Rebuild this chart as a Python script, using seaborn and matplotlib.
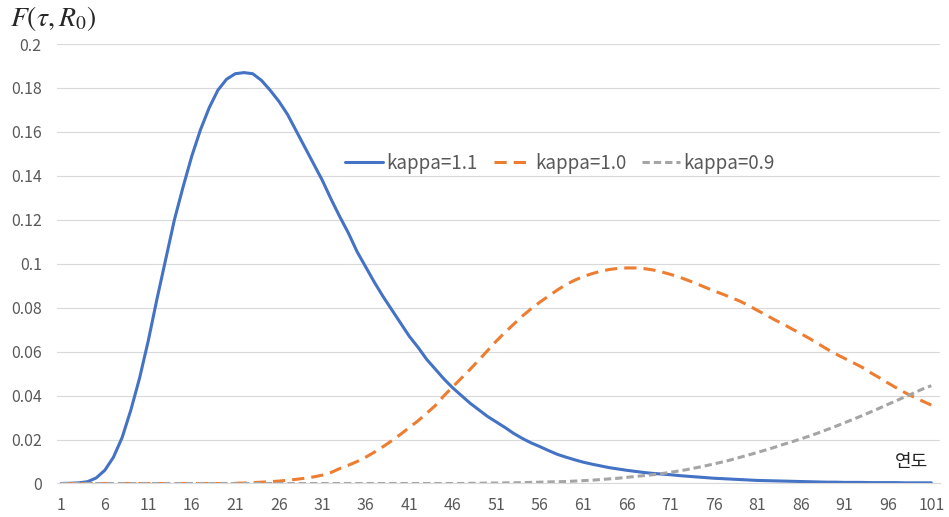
import numpy as np
import pandas as pd
import seaborn as sns
import matplotlib
matplotlib.use("Agg")
import matplotlib.pyplot as plt

# years 1..101
years = list(range(1, 102))

kappa_11 = [
    0.0, 0.0001, 0.0003, 0.0008, 0.0025, 0.0060, 0.0120, 0.0210, 0.0335, 0.0480,
    0.0650, 0.0840, 0.1020, 0.1200, 0.1350, 0.1490, 0.1610, 0.1710, 0.1790, 0.1840,
    0.1865, 0.1870, 0.1865, 0.1835, 0.1790, 0.1740, 0.1680, 0.1605, 0.1530, 0.1455,
    0.1380, 0.1295, 0.1215, 0.1140, 0.1055, 0.0985, 0.0915, 0.0850, 0.0790, 0.0730,
    0.0670, 0.0620, 0.0565, 0.0520, 0.0475, 0.0435, 0.0400, 0.0365, 0.0335, 0.0305,
    0.0280, 0.0255, 0.0228, 0.0205, 0.0185, 0.0168, 0.0150, 0.0133, 0.0120, 0.0108,
    0.0097, 0.0088, 0.0080, 0.0072, 0.0066, 0.0060, 0.0055, 0.0050, 0.0046, 0.0043,
    0.0040, 0.0036, 0.0033, 0.0030, 0.0027, 0.0024, 0.0022, 0.0020, 0.0018, 0.0016,
    0.0014, 0.0013, 0.0012, 0.0011, 0.0010, 0.0009, 0.0008, 0.0007, 0.0006, 0.0006,
    0.0005, 0.0005, 0.0005, 0.0004, 0.0004, 0.0004, 0.0004, 0.0003, 0.0003, 0.0003,
    0.0003,
]

kappa_10 = [
    0.0, 0.0, 0.0, 0.0, 0.0, 0.0, 0.0, 0.0, 0.0, 0.0,
    0.0, 0.0, 0.0, 0.0, 0.0, 0.0, 0.0, 0.0, 0.0, 0.0,
    0.0001, 0.0002, 0.0004, 0.0006, 0.0008, 0.0011, 0.0015, 0.0019, 0.0024, 0.0030,
    0.0038, 0.0050, 0.0068, 0.0083, 0.0100, 0.0120, 0.0143, 0.0168, 0.0195, 0.0224,
    0.0255, 0.0285, 0.0320, 0.0355, 0.0400, 0.0440, 0.0480, 0.0520, 0.0562, 0.0605,
    0.0648, 0.0688, 0.0725, 0.0762, 0.0795, 0.0825, 0.0853, 0.0880, 0.0905, 0.0925,
    0.0942, 0.0955, 0.0966, 0.0974, 0.0979, 0.0981, 0.0981, 0.0978, 0.0972, 0.0963,
    0.0952, 0.0940, 0.0925, 0.0910, 0.0893, 0.0877, 0.0862, 0.0846, 0.0830, 0.0810,
    0.0788, 0.0767, 0.0745, 0.0725, 0.0703, 0.0682, 0.0660, 0.0636, 0.0612, 0.0590,
    0.0570, 0.0550, 0.0530, 0.0505, 0.0482, 0.0458, 0.0435, 0.0413, 0.0393, 0.0375,
    0.0357,
]

kappa_09 = [
    0.0, 0.0, 0.0, 0.0, 0.0, 0.0, 0.0, 0.0, 0.0, 0.0,
    0.0, 0.0, 0.0, 0.0, 0.0, 0.0, 0.0, 0.0, 0.0, 0.0,
    0.0, 0.0, 0.0, 0.0, 0.0, 0.0, 0.0, 0.0, 0.0, 0.0,
    0.0, 0.0, 0.0, 0.0, 0.0, 0.0, 0.0, 0.0, 0.0, 0.0,
    0.0, 0.0, 0.0, 0.0, 0.0, 0.0, 0.0, 0.0001, 0.0001, 0.0002,
    0.0002, 0.0003, 0.0003, 0.0004, 0.0005, 0.0006, 0.0007, 0.0008, 0.0009, 0.0011,
    0.0013, 0.0015, 0.0018, 0.0021, 0.0024, 0.0028, 0.0032, 0.0036, 0.0040, 0.0045,
    0.0051, 0.0057, 0.0064, 0.0072, 0.0080, 0.0089, 0.0098, 0.0108, 0.0119, 0.0130,
    0.0141, 0.0153, 0.0165, 0.0178, 0.0190, 0.0203, 0.0216, 0.0230, 0.0245, 0.0260,
    0.0276, 0.0292, 0.0308, 0.0325, 0.0342, 0.0360, 0.0377, 0.0395, 0.0412, 0.0430,
    0.0445,
]

labels = ["kappa=1.1", "kappa=1.0", "kappa=0.9"]
colors = ["#4472C4", "#ED7D31", "#A5A5A5"]

df = pd.concat([
    pd.DataFrame({"year": years, "F": kappa_11, "series": labels[0]}),
    pd.DataFrame({"year": years, "F": kappa_10, "series": labels[1]}),
    pd.DataFrame({"year": years, "F": kappa_09, "series": labels[2]}),
])

sns.set_theme(style="white")
plt.rcParams["font.family"] = ["Noto Sans CJK KR", "DejaVu Sans"]
plt.rcParams["mathtext.fontset"] = "stix"

fig = plt.figure(figsize=(9.49, 5.17), dpi=100)
ax = fig.add_axes([0.060, 0.0648, 0.9305, 0.85])

sns.lineplot(
    data=df, x="year", y="F", hue="series", style="series",
    palette=dict(zip(labels, colors)),
    dashes={labels[0]: "", labels[1]: (4, 2.3), labels[2]: (2.4, 1.3)},
    linewidth=2.2, ax=ax,
)

ax.set_xlim(0.5, 102)
ax.set_ylim(0, 0.2)
ax.set_xticks(range(1, 102, 5))
yt = np.arange(0, 0.2001, 0.02)
ax.set_yticks(yt)
ax.set_yticklabels([format(round(v, 2), "g") for v in yt])
ax.tick_params(axis="both", length=0, labelsize=11.5, labelcolor="#595959")
ax.tick_params(axis="y", pad=11)
ax.tick_params(axis="x", pad=10)
ax.set_xlabel("")
ax.set_ylabel("")

ax.grid(axis="y", color="#D9D9D9", linewidth=0.8)
ax.set_axisbelow(True)
for side in ["top", "right", "left"]:
    ax.spines[side].set_visible(False)
ax.spines["bottom"].set_color("#D9D9D9")
ax.spines["bottom"].set_linewidth(0.8)

handles, labs = ax.get_legend_handles_labels()
ax.legend(handles, labs, loc="center", bbox_to_anchor=(0.57, 0.729), ncol=3,
          frameon=False, fontsize=13.5, labelcolor="#595959",
          handlelength=2.0, handletextpad=0.2, columnspacing=0.85)

fig.text(0.011, 0.965, r"$F(\tau,R_0)$", fontsize=20, va="center", ha="left")
fig.text(0.978, 0.106, "연도", fontsize=13, ha="right", va="center", color="#222222")

fig.savefig("out.png", dpi=100)
